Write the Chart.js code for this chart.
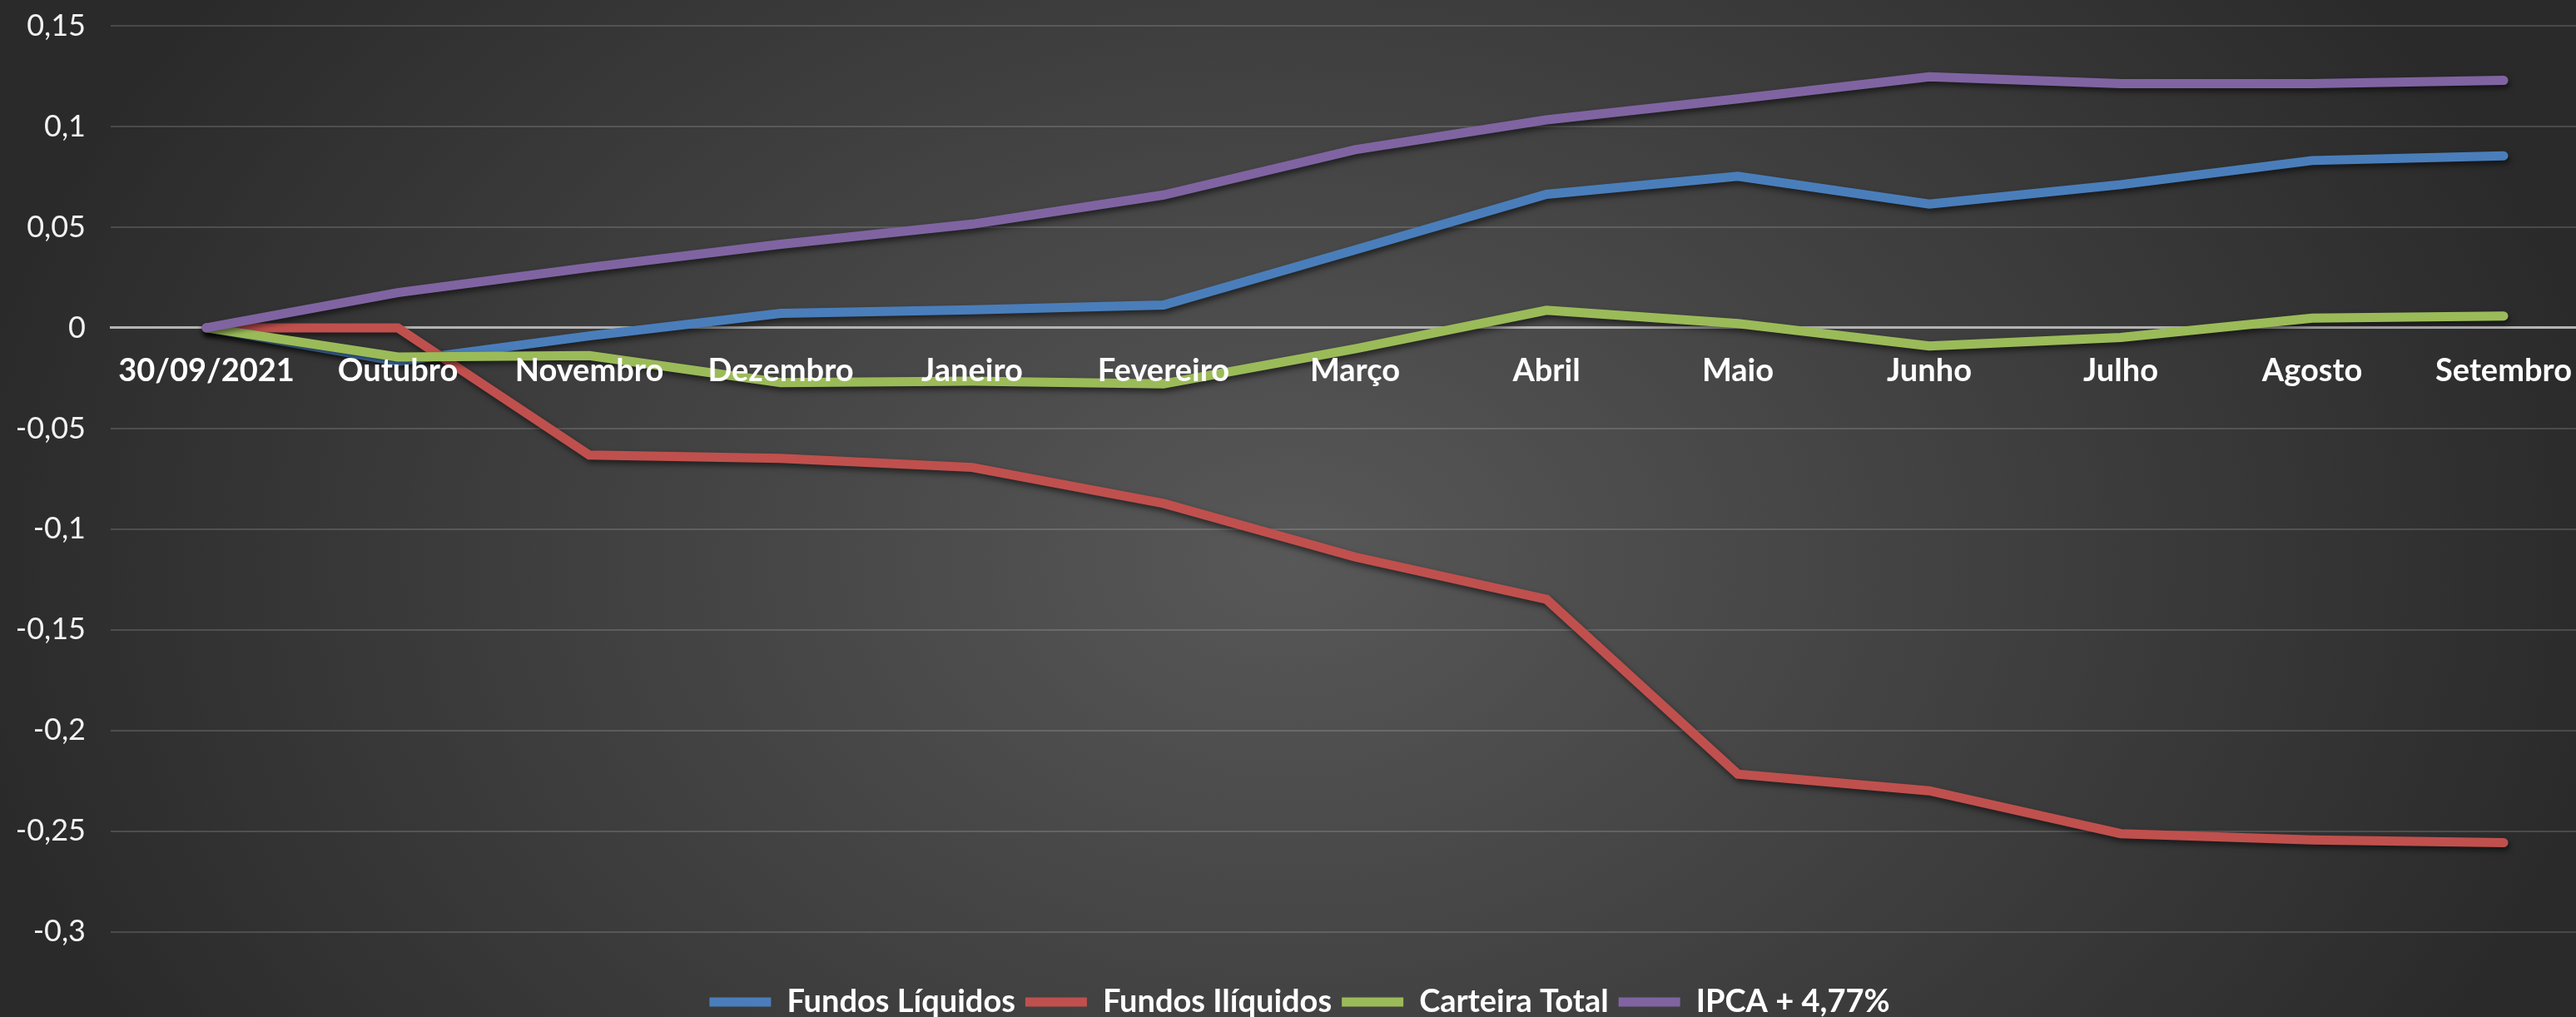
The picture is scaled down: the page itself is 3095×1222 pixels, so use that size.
<!DOCTYPE html>
<html>
<head>
<meta charset="utf-8">
<script src="https://cdn.jsdelivr.net/npm/chart.js@4.4.1/dist/chart.umd.min.js"></script>
<style>
  html, body { margin: 0; padding: 0; overflow: hidden; width: 3095px; height: 1222px; }
  body { background: radial-gradient(ellipse 52% 95% at 50% 55%, #585858 0%, #2a2a2a 100%); }
  #wrap { position: absolute; left: 0; top: 0; width: 3123px; height: 1233px; }
  canvas { display: block; }
</style>
</head>
<body>
<div id="wrap"><canvas id="c" width="3123" height="1233"></canvas></div>
<script>
const categories = ['30/09/2021','Outubro','Novembro','Dezembro','Janeiro','Fevereiro','Março','Abril','Maio','Junho','Julho','Agosto','Setembro'];
const fundosLiquidos  = [0, -0.0166, -0.0040, 0.0072, 0.0090, 0.0113, 0.0387, 0.0663, 0.0753, 0.0615, 0.0711, 0.0831, 0.0854];
const fundosIliquidos = [0, 0.0000, -0.0632, -0.0648, -0.0693, -0.0872, -0.1138, -0.1348, -0.2216, -0.2299, -0.2512, -0.2543, -0.2557];
const carteiraTotal   = [0, -0.0145, -0.0138, -0.0272, -0.0265, -0.0278, -0.0104, 0.0087, 0.0021, -0.0090, -0.0048, 0.0048, 0.0059];
const ipca            = [0, 0.0175, 0.0300, 0.0415, 0.0515, 0.0660, 0.0885, 0.1033, 0.1137, 0.1247, 0.1213, 0.1213, 0.1229];
const seriesNames = ['Fundos Líquidos', 'Fundos Ilíquidos', 'Carteira Total', 'IPCA + 4,77%'];
const seriesColors = ['#4A7EBB', '#C0504D', '#9BBB59', '#8064A2'];
const yMin = -0.3, yMax = 0.15, yStep = 0.05;

const seriesData = [fundosLiquidos, fundosIliquidos, carteiraTotal, ipca];

const shadowPlugin = {
  id: 'lineShadow',
  beforeDatasetDraw(chart) {
    const ctx = chart.ctx;
    ctx.save();
    ctx.shadowColor = 'rgba(0,0,0,0.55)';
    ctx.shadowBlur = 7;
    ctx.shadowOffsetX = 2;
    ctx.shadowOffsetY = 4;
  },
  afterDatasetDraw(chart) {
    chart.ctx.restore();
  }
};

new Chart(document.getElementById('c'), {
  type: 'line',
  data: {
    labels: categories,
    datasets: seriesData.map((d, i) => ({
      label: seriesNames[i],
      data: d,
      borderColor: seriesColors[i],
      backgroundColor: seriesColors[i],
      borderWidth: 11,
      borderCapStyle: 'round',
      borderJoinStyle: 'miter',
      pointRadius: 0,
      pointHoverRadius: 0,
      tension: 0,
      fill: false,
      order: seriesData.length - i
    }))
  },
  options: {
    responsive: false,
    animation: false,
    events: [],
    layout: { padding: { top: 31, left: 0, right: 0, bottom: 0 } },
    scales: {
      x: {
        type: 'category',
        offset: true,
        position: { y: 0 },
        grid: { display: false, drawTicks: false },
        border: { display: true, color: '#b4b4b4', width: 3, z: 0 },
        ticks: {
          z: 1,
          color: '#ffffff',
          font: { family: 'Lato', weight: 'bold', size: 38 },
          padding: 29,
          autoSkip: false,
          maxRotation: 0,
          minRotation: 0
        }
      },
      y: {
        min: yMin,
        max: yMax,
        afterFit(scale) { scale.width = 133; },
        grid: {
          drawTicks: true,
          tickLength: 22,
          tickColor: 'rgba(0,0,0,0)',
          lineWidth: 2,
          color: (c) => (c.tick && Math.abs(c.tick.value) < 1e-9) ? 'rgba(0,0,0,0)' : 'rgba(255,255,255,0.15)'
        },
        border: { display: false },
        ticks: {
          stepSize: yStep,
          color: '#f2f2f2',
          padding: 8,
          font: { family: 'Lato', size: 36 },
          callback: (v) => String(Math.round(v * 100) / 100).replace('.', ',')
        }
      }
    },
    plugins: {
      tooltip: { enabled: false },
      legend: {
        display: true,
        position: 'bottom',
        align: 'center',
        title: { display: true, text: '', font: { size: 1 }, padding: { top: 0, bottom: 52 } },
        labels: {
          usePointStyle: true,
          pointStyle: 'line',
          pointStyleWidth: 74,
          color: '#ffffff',
          padding: 12,
          font: { family: 'Lato', weight: 'bold', size: 38 },
          sort: (a, b) => a.datasetIndex - b.datasetIndex
        }
      }
    }
  },
  plugins: [shadowPlugin]
});
</script>
</body>
</html>
